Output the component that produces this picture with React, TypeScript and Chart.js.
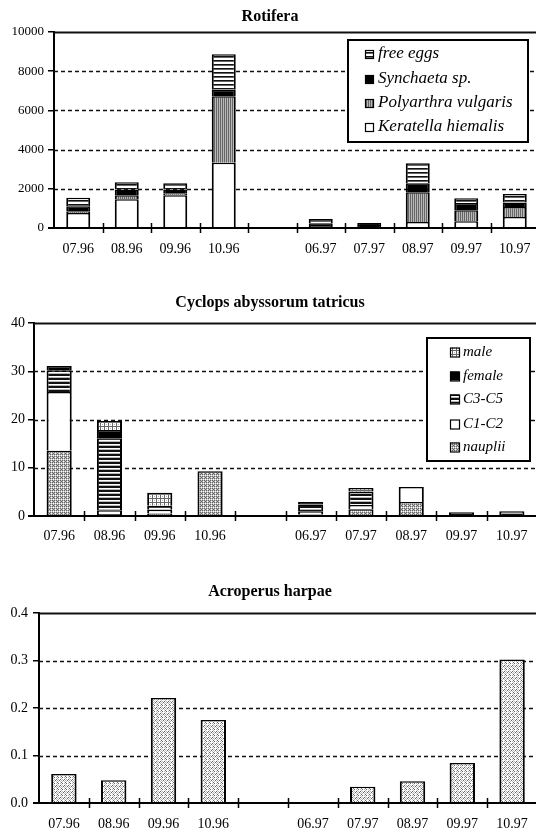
import React, { useEffect, useRef } from 'react';
import { Chart, registerables } from 'chart.js';

Chart.register(...registerables);

// Sampling months (the empty slot separates the 1996 and 1997 seasons)
const CATEGORIES = ['07.96', '08.96', '09.96', '10.96', '', '06.97', '07.97', '08.97', '09.97', '10.97'];

// Rotifera, ind. per unit volume
const KERATELLA = [760, 1470, 1670, 3330, 0, 40, 20, 300, 350, 560];
const POLYARTHRA = [100, 200, 100, 3390, 0, 60, 30, 1530, 560, 510];
const SYNCHAETA = [250, 300, 200, 330, 0, 140, 100, 450, 360, 230];
const FREE_EGGS = [430, 370, 310, 1820, 0, 220, 100, 1020, 250, 430];

// Cyclops abyssorum tatricus, developmental stages
const NAUPLII = [13.5, 0.4, 0.5, 9.3, 0, 0.3, 1.4, 2.9, 0, 0];
const C1_C2 = [12.2, 0.8, 0.8, 0, 0, 0.7, 0.9, 3.1, 0, 0];
const C3_C5 = [4.5, 14.9, 0.8, 0, 0, 1.4, 2.8, 0, 0.8, 1.0];
const FEMALE = [0.9, 1.7, 0, 0, 0, 0.5, 0, 0, 0, 0];
const MALE = [0, 1.9, 2.7, 0, 0, 0, 0.7, 0, 0, 0];

// Acroperus harpae
const ACROPERUS = [0.061, 0.048, 0.221, 0.175, 0, 0, 0.034, 0.046, 0.084, 0.302];

const SERIF = '"Liberation Serif", "Times New Roman", serif';
const PAGE_W = 536;
const CANVAS_W = 548;
const X_AXIS_H = 26;

// Hatch tiles: '#' dark, '+' mid grey, '.' light grey, ' ' white
const SHADES: Record<string, string> = { '#': '#111111', '+': '#666666', '.': '#b8b8b8', ' ': '#ffffff' };
const TILES: Record<string, string[]> = {
  hstripe: ['#', '#', ' ', '.'],
  hstripeLight: ['#', '+', ' ', ' '],
  vstripe: ['+.+.'],
  vdots: ['+.+.', '. . ', '+.+.', '.+. '],
  grid: ['++++', '+   ', '+ . ', '+   '],
  speckle: ['. + ', ' .  ', '+ . ', ' . +', '. . ', ' +  '],
};

function makeFill(kind: string): string | CanvasPattern {
  if (kind === 'white') return '#ffffff';
  if (kind === 'black') return '#000000';
  const rows = TILES[kind];
  const tile = document.createElement('canvas');
  tile.width = rows[0].length;
  tile.height = rows.length;
  const c = tile.getContext('2d')!;
  rows.forEach((row, yy) =>
    row.split('').forEach((ch, xx) => {
      c.fillStyle = SHADES[ch];
      c.fillRect(xx, yy, 1, 1);
    })
  );
  return c.createPattern(tile, 'repeat')!;
}

type Series = { label: string; data: number[]; fill: string };
type LegendBox = { x: number; y: number; w: number; h: number; rows: number[]; markX: number; mark: number; textX: number; size: number };
type PanelCfg = {
  top: number;
  height: number;
  chartTop: number;
  chartBottom: number;
  chartLeft: number;
  chartRight: number;
  title: string;
  titleY: number;
  yMax: number;
  yStep: number;
  decimals: number;
  yFont: number;
  yPad: number;
  barPct: number;
  labelPad: number;
  series: Series[];
  legend?: LegendBox;
};

const PANELS: PanelCfg[] = [
  {
    top: 0, height: 262, chartTop: 32, chartBottom: 228, chartLeft: 54, chartRight: 539,
    title: 'Rotifera', titleY: 17, yMax: 10000, yStep: 2000, decimals: 0, yFont: 13, yPad: 4, barPct: 0.495, labelPad: 13,
    series: [
      { label: 'Keratella hiemalis', data: KERATELLA, fill: 'white' },
      { label: 'Polyarthra vulgaris', data: POLYARTHRA, fill: 'vstripe' },
      { label: 'Synchaeta sp.', data: SYNCHAETA, fill: 'black' },
      { label: 'free eggs', data: FREE_EGGS, fill: 'hstripeLight' },
    ],
    legend: { x: 348, y: 40, w: 180, h: 102, rows: [54, 79, 103, 127], markX: 365, mark: 8, textX: 378, size: 17 },
  },
  {
    top: 270, height: 285, chartTop: 323, chartBottom: 516, chartLeft: 34, chartRight: 537,
    title: 'Cyclops abyssorum tatricus', titleY: 303, yMax: 40, yStep: 10, decimals: 0, yFont: 14, yPad: 3, barPct: 0.5, labelPad: 12,
    series: [
      { label: 'nauplii', data: NAUPLII, fill: 'vdots' },
      { label: 'C1-C2', data: C1_C2, fill: 'white' },
      { label: 'C3-C5', data: C3_C5, fill: 'hstripe' },
      { label: 'female', data: FEMALE, fill: 'black' },
      { label: 'male', data: MALE, fill: 'grid' },
    ],
    legend: { x: 427, y: 338, w: 103, h: 123, rows: [352, 376, 399, 424, 447], markX: 450, mark: 9, textX: 463, size: 15 },
  },
  {
    top: 555, height: 277, chartTop: 613, chartBottom: 803, chartLeft: 39, chartRight: 537,
    title: 'Acroperus harpae', titleY: 592, yMax: 0.4, yStep: 0.1, decimals: 1, yFont: 14, yPad: 5, barPct: 0.51, labelPad: 13,
    series: [{ label: 'Acroperus harpae', data: ACROPERUS, fill: 'speckle' }],
  },
];

function Panel({ cfg }: { cfg: PanelCfg }) {
  const ref = useRef<HTMLCanvasElement>(null);

  useEffect(() => {
    const canvas = ref.current!;
    const fills = cfg.series.map((s) => makeFill(s.fill));
    const off = cfg.top;

    const decor = {
      id: 'decor',
      beforeDatasetsDraw(chart: any) {
        const { ctx, chartArea, scales } = chart;
        const y = scales.y;
        ctx.save();
        ctx.strokeStyle = '#111';
        y.ticks.forEach((t: any) => {
          if (t.value === 0) return;
          const py = Math.round(y.getPixelForValue(t.value)) + 0.5;
          const top = Math.abs(t.value - cfg.yMax) < 1e-9;
          ctx.lineWidth = top ? 2 : 1.5;
          ctx.setLineDash(top ? [] : [4, 3]);
          ctx.beginPath();
          ctx.moveTo(chartArea.left, py);
          ctx.lineTo(CANVAS_W, py);
          ctx.stroke();
        });
        ctx.restore();
      },
      afterDatasetsDraw(chart: any) {
        const { ctx, chartArea, scales } = chart;
        const x = scales.x;
        const y0 = Math.round(scales.y.getPixelForValue(0));
        ctx.save();
        // baseline across the full width, with marks between months
        ctx.strokeStyle = '#000';
        ctx.lineWidth = 2;
        ctx.beginPath();
        ctx.moveTo(chartArea.left - 6, y0);
        ctx.lineTo(CANVAS_W, y0);
        ctx.stroke();
        ctx.lineWidth = 1.5;
        for (let i = 0; i < CATEGORIES.length - 1; i++) {
          const px = Math.round(x.getPixelForValue(i + 0.5)) + 0.5;
          ctx.beginPath();
          ctx.moveTo(px, y0 - 5);
          ctx.lineTo(px, y0 + 5);
          ctx.stroke();
        }

        // title
        ctx.fillStyle = '#000';
        ctx.font = `bold 16px ${SERIF}`;
        ctx.textAlign = 'center';
        ctx.textBaseline = 'middle';
        ctx.fillText(cfg.title, 270, cfg.titleY - off);

        // legend, last series first
        const lg = cfg.legend;
        if (lg) {
          ctx.fillStyle = '#fff';
          ctx.fillRect(lg.x, lg.y - off, lg.w, lg.h);
          ctx.lineWidth = 2;
          ctx.strokeStyle = '#000';
          ctx.strokeRect(lg.x, lg.y - off, lg.w, lg.h);
          const order = cfg.series.map((_, i) => i).reverse();
          order.forEach((si, row) => {
            const cy = lg.rows[row] - off;
            const m = lg.mark;
            ctx.fillStyle = fills[si] as any;
            ctx.fillRect(lg.markX, cy - m / 2, m, m);
            ctx.lineWidth = 1.2;
            ctx.strokeStyle = '#000';
            ctx.strokeRect(lg.markX + 0.5, cy - m / 2 + 0.5, m, m);
            ctx.fillStyle = '#000';
            ctx.font = `italic ${lg.size}px ${SERIF}`;
            ctx.textAlign = 'left';
            ctx.textBaseline = 'middle';
            ctx.fillText(cfg.series[si].label, lg.textX, cy);
          });
        }
        ctx.restore();
      },
    };

    const chart = new Chart(canvas, {
      type: 'bar',
      data: {
        labels: CATEGORIES,
        datasets: cfg.series.map((s, i) => ({
          label: s.label,
          data: s.data,
          backgroundColor: fills[i] as any,
          borderColor: '#000',
          borderWidth: { top: 1.5, left: 2, right: 2, bottom: 0 },
          barPercentage: cfg.barPct,
          categoryPercentage: 1,
        })),
      },
      options: {
        responsive: false,
        animation: false,
        devicePixelRatio: 1,
        layout: {
          padding: {
            top: cfg.chartTop - off,
            left: 0,
            right: CANVAS_W - cfg.chartRight,
            bottom: cfg.height - (cfg.chartBottom - off) - X_AXIS_H,
          },
        },
        plugins: { legend: { display: false }, title: { display: false }, tooltip: { enabled: false } },
        scales: {
          x: {
            stacked: true,
            grid: { display: false, drawTicks: false },
            border: { display: false },
            ticks: {
              color: '#000',
              font: { family: SERIF, size: 14 },
              padding: cfg.labelPad,
              autoSkip: false,
              maxRotation: 0,
            },
            afterFit: (s: any) => {
              s.height = X_AXIS_H;
            },
          },
          y: {
            stacked: true,
            min: 0,
            max: cfg.yMax,
            grid: { display: true, drawOnChartArea: false, drawTicks: true, tickLength: 6, color: '#000', lineWidth: 1.5 },
            border: { display: true, color: '#000', width: 2 },
            ticks: {
              stepSize: cfg.yStep,
              color: '#000',
              padding: cfg.yPad,
              font: { family: SERIF, size: cfg.yFont },
              callback: (v: any) => Number(v).toFixed(cfg.decimals),
            },
            afterFit: (s: any) => {
              s.width = cfg.chartLeft;
            },
          },
        },
      },
      plugins: [decor],
    } as any);

    return () => chart.destroy();
  }, [cfg]);

  return (
    <canvas
      ref={ref}
      width={CANVAS_W}
      height={cfg.height}
      style={{ position: 'absolute', left: 0, top: cfg.top, display: 'block' }}
    />
  );
}

export default function App() {
  return (
    <div style={{ position: 'absolute', left: 0, top: 0, width: PAGE_W, height: 832, background: '#fff', overflow: 'hidden' }}>
      {PANELS.map((p) => (
        <Panel key={p.title} cfg={p} />
      ))}
    </div>
  );
}
